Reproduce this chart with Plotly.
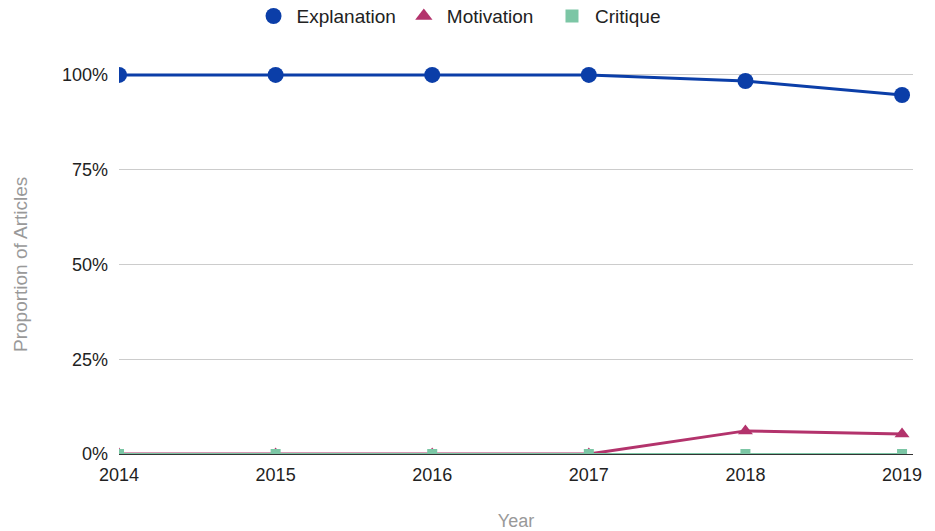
import plotly.graph_objects as go

years = [2014, 2015, 2016, 2017, 2018, 2019]
explanation = [1.0, 1.0, 1.0, 1.0, 0.984, 0.947]
motivation = [0.0, 0.0, 0.0, 0.0, 0.061, 0.053]
critique = [0.0, 0.0, 0.0, 0.0, 0.0, 0.0]

names = ["Explanation", "Motivation", "Critique"]
colors = ["#0b3ea8", "#b3336c", "#7cc6a5"]
symbols = ["circle", "triangle-up", "square"]

fig = go.Figure()
series = [explanation, motivation, critique]
sizes = [16, 13, 10]
widths = [3, 3, 2]
for name, vals, c, s, sz, w in zip(names, series, colors, symbols, sizes, widths):
    fig.add_trace(go.Scatter(x=years, y=vals, name=name, mode="lines+markers", showlegend=False,
                             line=dict(color=c, width=w),
                             marker=dict(symbol=s, size=sz, color=c)))
# legend entries: markers only
leg_sizes = [20, 15, 13]
leg_labels = ["Explanation", "Motivation\u00a0\u00a0", "Critique"]
for name, c, s, sz in zip(leg_labels, colors, symbols, leg_sizes):
    fig.add_trace(go.Scatter(x=[None], y=[None], name=name, mode="markers",
                             marker=dict(symbol=s, size=sz, color=c)))

fig.update_layout(
    width=935, height=531,
    margin=dict(l=119, r=22, t=37, b=77, autoexpand=False),
    paper_bgcolor="white", plot_bgcolor="white",
    font=dict(family="Liberation Sans, Arial, sans-serif", size=18, color="#222"),
    legend=dict(orientation="h", x=0.427, xanchor="center", y=1.05, yanchor="middle",
                font=dict(size=19, color="#222"), itemsizing="trace", itemwidth=36,
                tracegroupgap=0),
    xaxis=dict(range=[2014, 2019.07], tickmode="array", tickvals=years,
               ticktext=[str(y) for y in years], showgrid=False, showline=True,
               linecolor="#333", linewidth=1, ticks="", zeroline=False,
               ticklabelstandoff=4,
               title=dict(text="Year", font=dict(color="#999", size=18), standoff=30)),
    yaxis=dict(range=[0, 1.1], tickvals=[0, 0.25, 0.5, 0.75, 1.0],
               ticktext=["0%", "25%", "50%", "75%", "100%"],
               showgrid=True, gridcolor="#cccccc", zeroline=False, ticks="",
               ticklabelstandoff=10),
    annotations=[dict(text="Proportion of Articles", xref="paper", yref="paper",
                      x=-0.1247, y=0.4556, xanchor="center", yanchor="middle",
                      textangle=-90, showarrow=False,
                      font=dict(color="#999", size=19))],
)

fig.write_html("out.html")
